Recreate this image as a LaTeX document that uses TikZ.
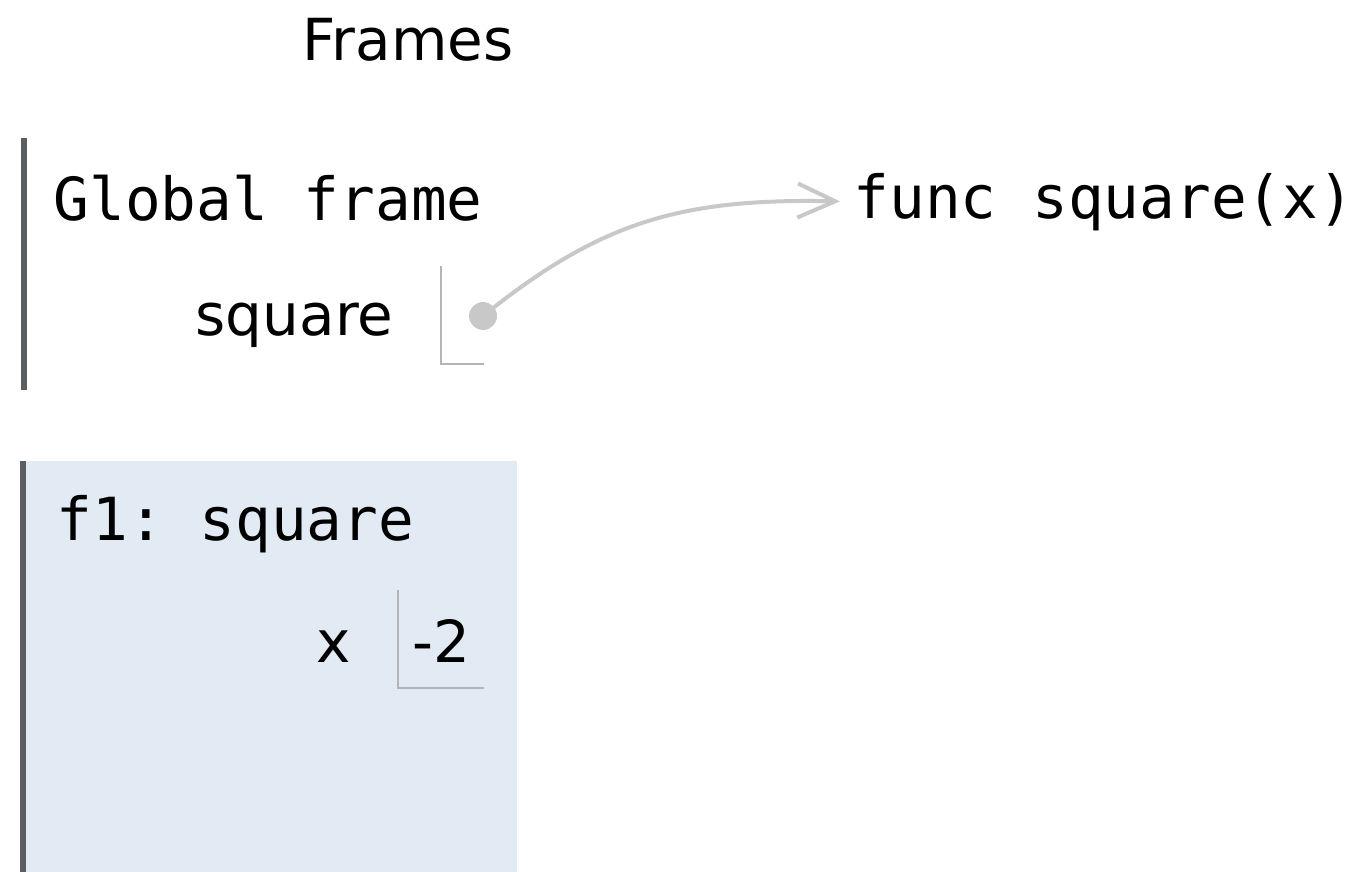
\documentclass[tikz,border=0pt]{standalone}
\usepackage{fontspec}
\setmainfont{DejaVu Sans}
\setmonofont{DejaVu Sans Mono}
\usetikzlibrary{arrows.meta, calc}

\definecolor{framebar}{HTML}{5A5E62}
\definecolor{framefill}{HTML}{E2EAF4}
\definecolor{ptrgray}{HTML}{C8C8C8}
\definecolor{boxgray}{HTML}{B4B4B4}

\begin{document}
\begin{tikzpicture}[
    x=0.02cm, y=-0.02cm,
    thick,
    >={Straight Barb[length=0.75cm, width=0.68cm]},
    label/.style={inner sep=0pt, font=\fontsize{33pt}{40pt}\selectfont},
    code/.style={inner sep=0pt, font=\fontsize{33.8pt}{40pt}\selectfont\ttfamily},
    valbox/.style={draw=boxgray, line width=0.03cm}]

    % canvas
    \useasboundingbox (0,0) rectangle (1352,872);

    % heading
    \node[label, anchor=base] (frames) at (408,60) {Frames};

    % global frame
    \fill[framebar] (21,138) rectangle (27,390);
    \node[code, anchor=base west] (global) at (53,220) {Global frame};
    \node[label, anchor=base east] (sqname) at (394,335) {square};
    \draw[valbox] (441,266) coordinate (sqtop) |- (484,364) coordinate (sqend);
    \node[circle, fill=ptrgray, inner sep=0pt, minimum size=0.56cm] (sqptr) at (483,316) {};

    % function object
    \node[code, anchor=base west] (func) at (853,218) {func square(x)};
    \draw[->, ptrgray, line width=0.08cm, shorten >=0.26cm]
        (sqptr.center) .. controls (600,222) and (680,198) .. (func.west);

    % frame f1
    \fill[framefill] (20,461) rectangle (517,872);
    \fill[framebar] (20,461) rectangle (26,872);
    \node[code, anchor=base west] (f1) at (56,540) {f1: square};
    \node[label, anchor=base east] (xname) at (352,662) {x};
    \draw[valbox] (398,590) coordinate (xtop) |- (484,688) coordinate (xend);
    \node[label, anchor=base west] (xval) at (412,662) {-2};

\end{tikzpicture}
\end{document}
